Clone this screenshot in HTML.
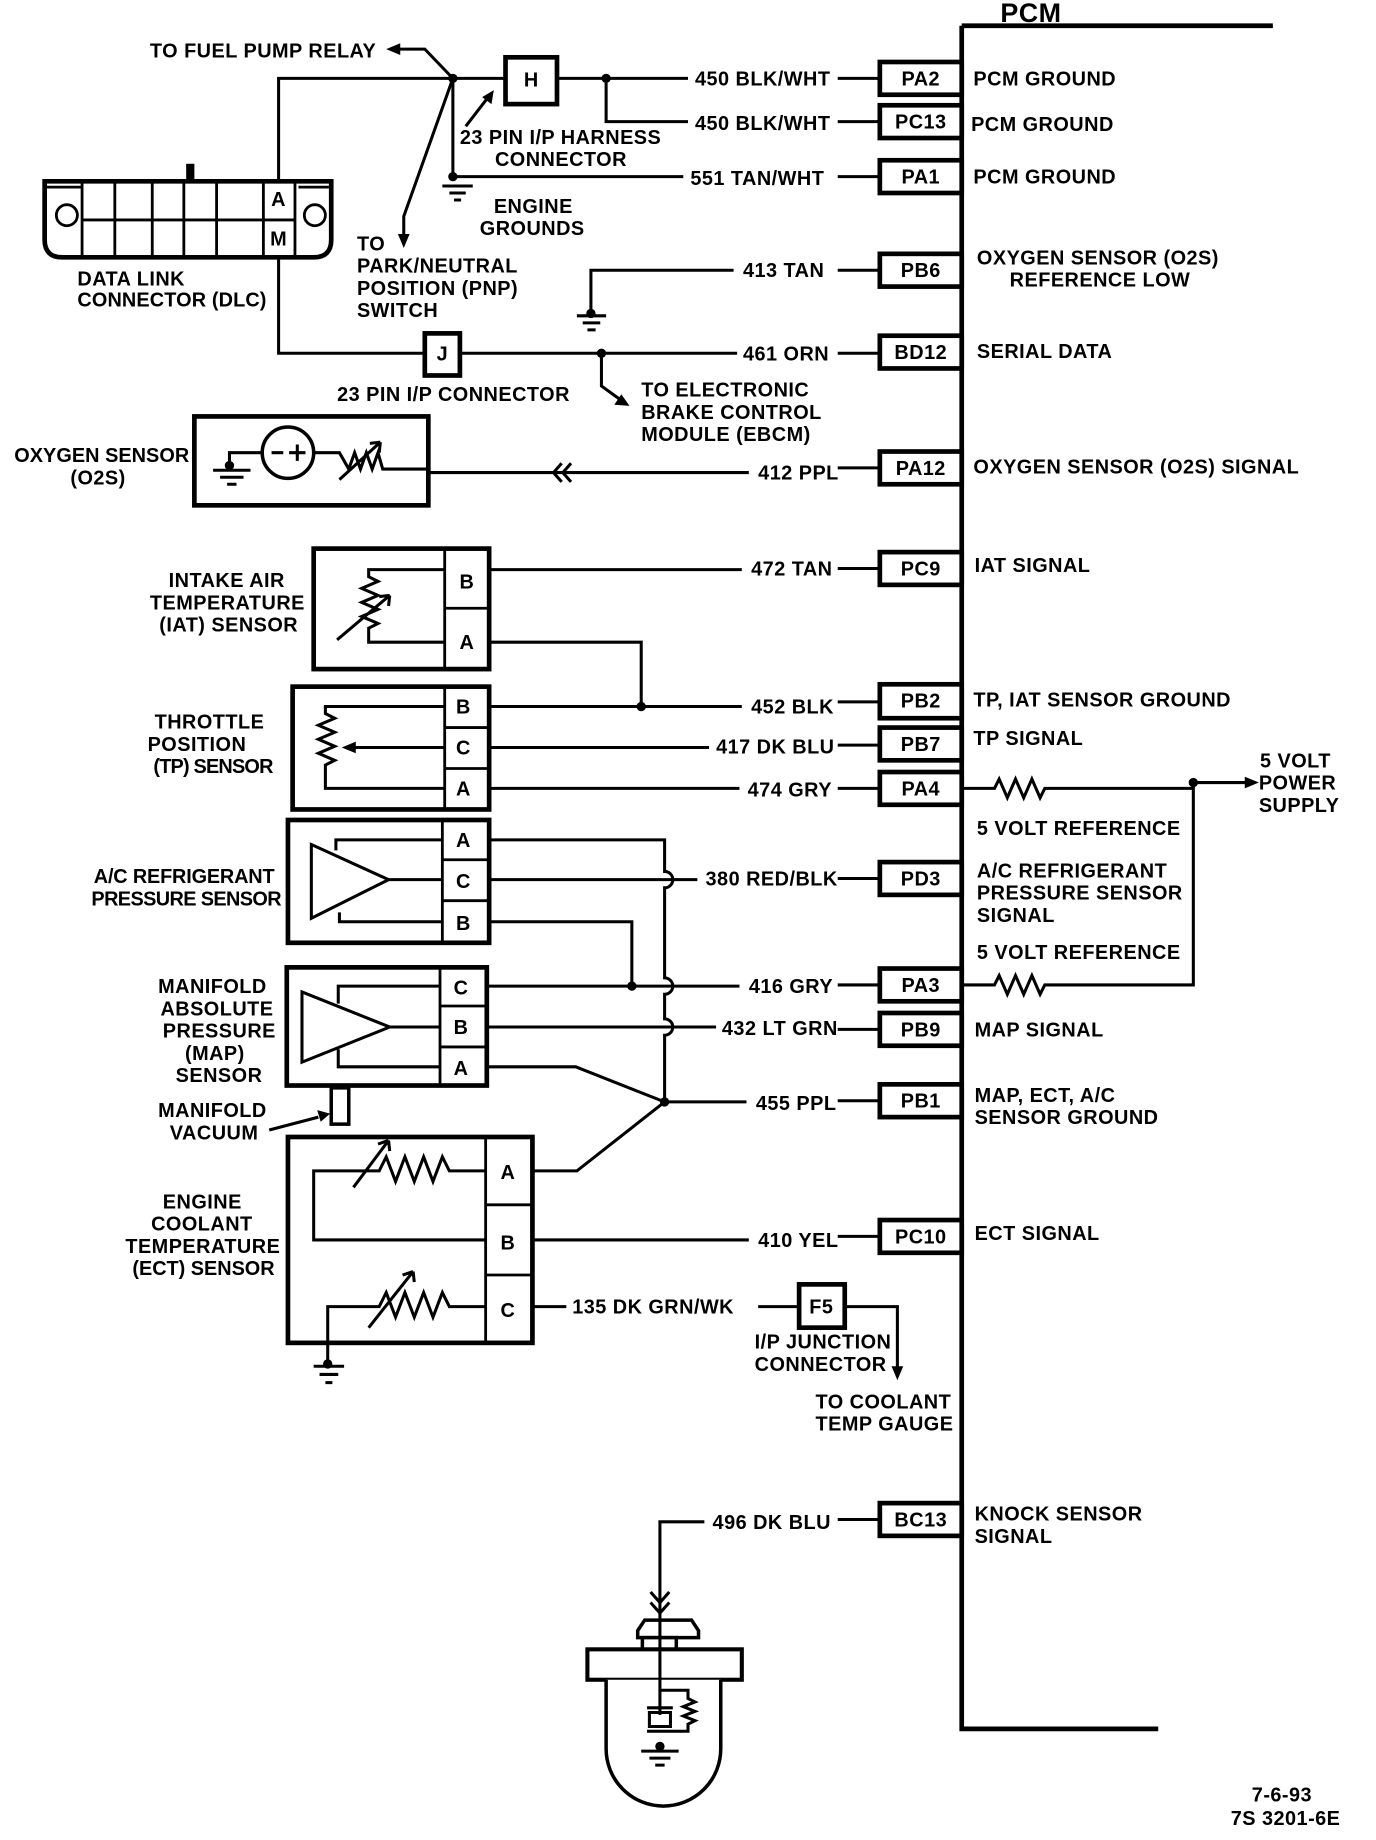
<!DOCTYPE html>
<html><head><meta charset="utf-8"><style>
html,body{margin:0;padding:0;background:#fff;width:1376px;height:1840px;overflow:hidden}
svg{display:block}
text{font-family:"Liberation Sans",sans-serif;font-weight:bold;font-size:17px;letter-spacing:0.4px;fill:#000}
.w{stroke:#000;stroke-width:2.6;fill:none}
.b{stroke:#000;stroke-width:4;fill:#fff}
.t{stroke:#000;stroke-width:2.4;fill:none}
</style></head><body>
<svg width="1376" height="1840" viewBox="0 0 1176 1573" xmlns="http://www.w3.org/2000/svg">
<!-- PCM -->
<text x="855" y="19" style="font-size:23px">PCM</text>
<path d="M822 22 H1088 M822 22 V1478 H990" stroke="#000" stroke-width="4" fill="none"/>
<!-- pin boxes -->
<g>
<rect class="b" x="752" y="53" width="70" height="28"/><text x="787" y="73" text-anchor="middle">PA2</text>
<rect class="b" x="752" y="90" width="70" height="28"/><text x="787" y="110" text-anchor="middle">PC13</text>
<rect class="b" x="752" y="137" width="70" height="28"/><text x="787" y="157" text-anchor="middle">PA1</text>
<rect class="b" x="752" y="217" width="70" height="28"/><text x="787" y="237" text-anchor="middle">PB6</text>
<rect class="b" x="752" y="287" width="70" height="28"/><text x="787" y="307" text-anchor="middle">BD12</text>
<rect class="b" x="752" y="386" width="70" height="28"/><text x="787" y="406" text-anchor="middle">PA12</text>
<rect class="b" x="752" y="472" width="70" height="28"/><text x="787" y="492" text-anchor="middle">PC9</text>
<rect class="b" x="752" y="585" width="70" height="29"/><text x="787" y="605" text-anchor="middle">PB2</text>
<rect class="b" x="752" y="622" width="70" height="28"/><text x="787" y="642" text-anchor="middle">PB7</text>
<rect class="b" x="752" y="660" width="70" height="28"/><text x="787" y="680" text-anchor="middle">PA4</text>
<rect class="b" x="752" y="737" width="70" height="28"/><text x="787" y="757" text-anchor="middle">PD3</text>
<rect class="b" x="752" y="828" width="70" height="28"/><text x="787" y="848" text-anchor="middle">PA3</text>
<rect class="b" x="752" y="866" width="70" height="28"/><text x="787" y="886" text-anchor="middle">PB9</text>
<rect class="b" x="752" y="927" width="70" height="28"/><text x="787" y="947" text-anchor="middle">PB1</text>
<rect class="b" x="752" y="1043" width="70" height="28"/><text x="787" y="1063" text-anchor="middle">PC10</text>
<rect class="b" x="752" y="1285" width="70" height="28"/><text x="787" y="1305" text-anchor="middle">BC13</text>
</g>
<!-- PCM descriptions -->
<g>
<text x="832" y="73">PCM GROUND</text>
<text x="830" y="112">PCM GROUND</text>
<text x="832" y="157">PCM GROUND</text>
<text x="835" y="226">OXYGEN SENSOR (O2S)</text>
<text x="863" y="245">REFERENCE LOW</text>
<text x="835" y="306">SERIAL DATA</text>
<text x="832" y="405">OXYGEN SENSOR (O2S) SIGNAL</text>
<text x="833" y="489">IAT SIGNAL</text>
<text x="832" y="604">TP, IAT SENSOR GROUND</text>
<text x="832" y="637">TP SIGNAL</text>
<text x="835" y="714">5 VOLT REFERENCE</text>
<text x="835" y="750">A/C REFRIGERANT</text>
<text x="835" y="769">PRESSURE SENSOR</text>
<text x="835" y="788">SIGNAL</text>
<text x="835" y="820">5 VOLT REFERENCE</text>
<text x="833" y="886">MAP SIGNAL</text>
<text x="833" y="942">MAP, ECT, A/C</text>
<text x="833" y="961">SENSOR GROUND</text>
<text x="833" y="1060">ECT SIGNAL</text>
<text x="833" y="1300">KNOCK SENSOR</text>
<text x="833" y="1319">SIGNAL</text>
<text x="1077" y="656">5 VOLT</text>
<text x="1076" y="675">POWER</text>
<text x="1076" y="694">SUPPLY</text>
<text x="1070" y="1540">7-6-93</text>
<text x="1052" y="1560">7S 3201-6E</text>
</g>
<!-- 5V supply -->
<path class="w" d="M822 674 H850 l4 -8 l7 16 l7 -16 l7 16 l7 -16 l7 16 l4 -8 H1020 M822 842 H850 l4 -8 l7 16 l7 -16 l7 16 l7 -16 l7 16 l4 -8 H1020 V669 H1068"/>
<circle cx="1020" cy="669" r="4"/>
<path d="M1076 669 l-12 -5 v10z"/>
<!-- top left wiring -->
<path class="w" d="M238 160 V67 H432 M475 67 H588 M716 67 H752 M518 67 V104 H588 M716 104 H752 M387 67 V151 H584 M716 151 H752"/>
<circle cx="387" cy="67" r="4"/><circle cx="518" cy="67" r="4"/><circle cx="387" cy="151" r="4"/>
<path class="w" d="M378 159 h26 M384 165 h14 M388 171 h6"/>
<rect class="b" x="432" y="49" width="44" height="40"/><text x="454" y="74" text-anchor="middle">H</text>
<text x="594" y="73">450 BLK/WHT</text>
<text x="594" y="111">450 BLK/WHT</text>
<text x="590" y="158">551 TAN/WHT</text>
<path class="w" d="M387 67 L363 42 H338"/><path d="M330 42 l12 -5 v10z"/>
<text x="128" y="49">TO FUEL PUMP RELAY</text>
<path class="w" d="M387 67 L345 185 V205"/><path d="M345 212 l-5 -12 h10z"/>
<path class="w" d="M398 108 L418 82"/><path d="M422 77 l-2 12 l-8 -6z"/>
<text x="393" y="123">23 PIN I/P HARNESS</text>
<text x="423" y="142">CONNECTOR</text>
<text x="422" y="182">ENGINE</text>
<text x="410" y="201">GROUNDS</text>
<text x="305" y="214">TO</text>
<text x="305" y="233">PARK/NEUTRAL</text>
<text x="305" y="252">POSITION (PNP)</text>
<text x="305" y="271">SWITCH</text>
<!-- DLC -->
<path class="b" d="M38 155 H283 V205 Q283 220 268 220 H53 Q38 220 38 205Z"/>
<path class="t" d="M40 160 H70 M255 160 H281"/>
<rect x="159" y="140" width="7" height="14" fill="#000"/>
<path class="t" d="M70 155 V220 M98 155 V220 M130 155 V220 M157 155 V220 M185 155 V220 M225 155 V220 M252 155 V220 M70 188 H252"/>
<circle cx="57" cy="184" r="9" class="t"/><circle cx="269" cy="184" r="9" class="t"/>
<text x="238" y="176" text-anchor="middle">A</text><text x="238" y="210" text-anchor="middle">M</text>
<text x="66" y="244">DATA LINK</text>
<text x="66" y="262" textLength="162">CONNECTOR (DLC)</text>
<path class="w" d="M238 220 V302 H363 M393 302 H630 M716 302 H752 M514 302 V330 L532 343"/>
<circle cx="514" cy="302" r="4"/><path d="M538 347 l-13 -1 l6 -9z"/>
<rect class="b" x="363" y="285" width="30" height="36"/><text x="378" y="308" text-anchor="middle">J</text>
<text x="288" y="343">23 PIN I/P CONNECTOR</text>
<text x="548" y="339">TO ELECTRONIC</text>
<text x="548" y="358">BRAKE CONTROL</text>
<text x="548" y="377">MODULE (EBCM)</text>
<text x="635" y="308">461 ORN</text>
<!-- PB6 ground -->
<path class="w" d="M627 231 H505 V268 M493 270 h25 M498 276 h15 M502 282 h7 M716 231 H752"/>
<circle cx="505" cy="268" r="4"/>
<text x="635" y="237">413 TAN</text>
<!-- O2 sensor -->
<rect class="b" x="166" y="356" width="200" height="76"/>
<circle cx="246" cy="387" r="22" class="w" style="stroke-width:3"/>
<path class="w" d="M232 387 h10 M254 380 v14 M247 387 h14"/>
<path class="w" d="M224 387 H196 V398 M182 402 h32 M188 408 h20 M194 414 h8 M268 387 H290 l8 14 l5 -14 l5 14 l5 -14 l5 14 l5 -14 l4 14 H366 M290 410 l35 -32 M325 378 l-9 1 M325 378 l-1 9"/>
<circle cx="196" cy="398" r="4"/>
<text x="12" y="395" textLength="150">OXYGEN SENSOR</text>
<text x="60" y="414">(O2S)</text>
<path class="w" d="M366 404 H640 M716 400 H752 M480 396 l-7 8 l7 8 M488 396 l-7 8 l7 8"/>
<text x="648" y="410">412 PPL</text>
<!-- IAT -->
<rect class="b" x="268" y="469" width="150" height="103"/>
<path class="t" d="M380 469 V572 M380 520 H418"/>
<text x="399" y="503" text-anchor="middle">B</text><text x="399" y="555" text-anchor="middle">A</text>
<path class="w" d="M380 487 H315 V493 l8 4 l-14 6 l14 6 l-14 6 l14 6 l-14 6 l14 6 l-8 4 V549 H380 M288 547 l45 -38 M333 509 l-9 1 M333 509 l-1 9"/>
<text x="144" y="502">INTAKE AIR</text>
<text x="128" y="521">TEMPERATURE</text>
<text x="136" y="540">(IAT) SENSOR</text>
<path class="w" d="M418 487 H634 M716 486 H752 M418 549 H548 V604"/>
<text x="642" y="492">472 TAN</text>
<!-- TP -->
<rect class="b" x="250" y="587" width="168" height="105"/>
<path class="t" d="M380 587 V692 M380 622 H418 M380 657 H418"/>
<text x="396" y="610" text-anchor="middle">B</text><text x="396" y="645" text-anchor="middle">C</text><text x="396" y="680" text-anchor="middle">A</text>
<path class="w" d="M380 604 H278 V610 l8 4 l-14 6 l14 6 l-14 6 l14 6 l-14 6 l14 6 l-8 4 V674 H380 M380 639 H300"/><path d="M292 639 l12 -5 v10z"/>
<text x="132" y="623">THROTTLE</text>
<text x="126" y="642">POSITION</text>
<text x="131" y="661" textLength="103">(TP) SENSOR</text>
<path class="w" d="M418 604 H634 M716 600 H752 M418 639 H606 M716 637 H752 M418 674 H632 M716 674 H752"/>
<circle cx="548" cy="604" r="4"/>
<text x="642" y="610">452 BLK</text>
<text x="612" y="644">417 DK BLU</text>
<text x="639" y="681">474 GRY</text>
<!-- A/C -->
<rect class="b" x="246" y="701" width="172" height="105"/>
<path class="t" d="M378 701 V806 M378 735 H418 M378 770 H418"/>
<text x="396" y="724" text-anchor="middle">A</text><text x="396" y="759" text-anchor="middle">C</text><text x="396" y="795" text-anchor="middle">B</text>
<path class="w" d="M266 722 L332 752 L266 785Z M378 718 H287 V727 M378 752 H332 M378 788 H290 V780"/>
<text x="80" y="755" textLength="155">A/C REFRIGERANT</text>
<text x="78" y="774" textLength="163">PRESSURE SENSOR</text>
<path class="w" d="M418 718 H568 V745 a7 7 0 0 1 0 14 V836 a7 7 0 0 1 0 14 V871 a7 7 0 0 1 0 14 V942 M418 752 H596 M716 751 H752 M418 788 H540 V843"/>
<text x="603" y="757">380 RED/BLK</text>
<!-- MAP -->
<rect class="b" x="245" y="827" width="171" height="101"/>
<path class="t" d="M376 827 V928 M376 860 H416 M376 895 H416"/>
<text x="394" y="850" text-anchor="middle">C</text><text x="394" y="884" text-anchor="middle">B</text><text x="394" y="919" text-anchor="middle">A</text>
<path class="w" d="M258 848 L333 878 L258 908Z M376 843 H289 V858 M376 878 H333 M376 912 H289 V897"/>
<rect class="b" x="283" y="930" width="15" height="31" style="stroke-width:3"/>
<path class="w" d="M230 966 L272 955"/><path d="M282 952 l-11 -3 l3 10z"/>
<text x="135" y="849">MANIFOLD</text>
<text x="137" y="868">ABSOLUTE</text>
<text x="139" y="887">PRESSURE</text>
<text x="158" y="906">(MAP)</text>
<text x="150" y="925">SENSOR</text>
<text x="135" y="955">MANIFOLD</text>
<text x="145" y="974">VACUUM</text>
<path class="w" d="M416 843 H632 M716 842 H752 M416 878 H612 M716 880 H752 M416 912 H492 L568 942 H638 M716 941 H752"/>
<circle cx="540" cy="843" r="4"/><circle cx="568" cy="942" r="4"/>
<text x="640" y="849">416 GRY</text>
<text x="617" y="885">432 LT GRN</text>
<text x="646" y="949">455 PPL</text>
<!-- ECT -->
<rect class="b" x="246" y="972" width="209" height="176"/>
<path class="t" d="M415 972 V1148 M415 1030 H455 M415 1090 H455"/>
<text x="434" y="1008" text-anchor="middle">A</text><text x="434" y="1068" text-anchor="middle">B</text><text x="434" y="1126" text-anchor="middle">C</text>
<path class="w" d="M415 1001 H384 l-6 -12 l-8 21 l-8 -21 l-8 21 l-8 -21 l-8 21 l-8 -21 l-6 12 H268 V1060 H415 M302 1015 l30 -40 M332 975 l-9 3 M332 975 l1 9 M415 1117 H384 l-6 -12 l-8 21 l-8 -21 l-8 21 l-8 -21 l-8 21 l-8 -21 l-6 12 H280 V1166 M268 1168 h26 M273 1175 h16 M278 1182 h6 M315 1135 l38 -48 M353 1087 l-9 3 M353 1087 l1 9"/>
<circle cx="280" cy="1166" r="4"/>
<text x="139" y="1033">ENGINE</text>
<text x="129" y="1052">COOLANT</text>
<text x="107" y="1071">TEMPERATURE</text>
<text x="113" y="1090" textLength="122">(ECT) SENSOR</text>
<path class="w" d="M455 1001 H493 L568 942 M455 1060 H640 M716 1057 H752 M455 1117 H484 M648 1117 H683 M722 1117 H767 V1172"/>
<path d="M767 1180 l-5 -12 h10z"/>
<rect class="b" x="683" y="1098" width="39" height="37"/><text x="702" y="1123" text-anchor="middle">F5</text>
<text x="648" y="1066">410 YEL</text>
<text x="489" y="1123">135 DK GRN/WK</text>
<text x="645" y="1153">I/P JUNCTION</text>
<text x="645" y="1172">CONNECTOR</text>
<text x="697" y="1204">TO COOLANT</text>
<text x="697" y="1223">TEMP GAUGE</text>
<!-- knock -->
<path class="w" d="M602 1301 H564 V1386 M716 1299 H752"/>
<text x="609" y="1307">496 DK BLU</text>
<path class="b" d="M545 1394 L551 1385 H591 L597 1394 V1400 H545Z" style="stroke-width:3"/>
<rect class="b" x="549" y="1400" width="29" height="30" style="stroke-width:3"/>
<rect class="b" x="502" y="1410" width="132" height="26" style="stroke-width:3.5"/>
<path class="w" d="M556 1361 l8 9 l8 -9 M556 1370 l8 9 l8 -9"/>
<path class="b" d="M518 1436 V1495 A49 49 0 0 0 616 1495 V1436" style="stroke-width:3"/>
<path class="w" d="M564 1385 V1466 M564 1445 H588 V1452 l6 3 l-10 4 l10 4 l-10 4 l10 4 l-6 3 V1480 H564 M553 1460 h22 M555 1464 h18 v12 h-18z M553 1480 h22 M548 1497 h32 M555 1503 h18 M560 1509 h8"/>
<circle cx="564" cy="1493" r="4"/>
</svg>
</body></html>
